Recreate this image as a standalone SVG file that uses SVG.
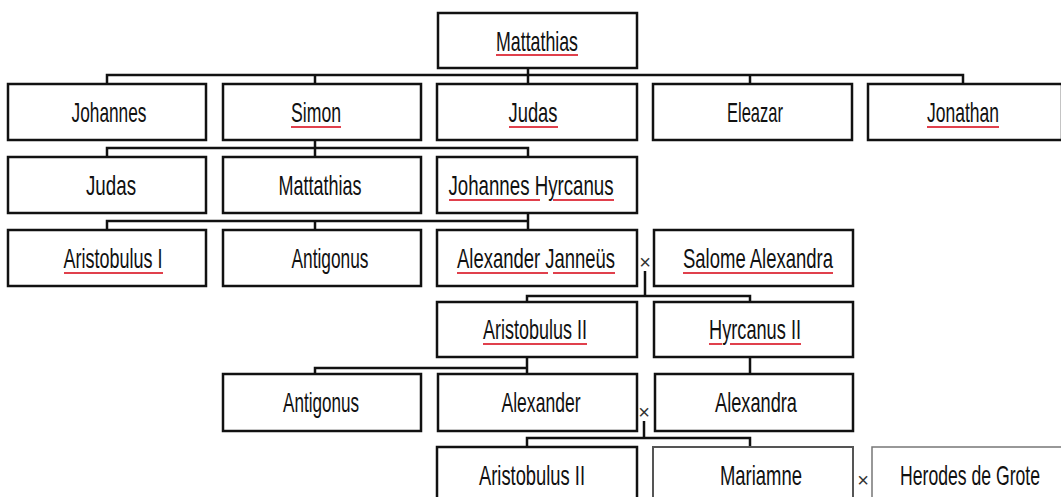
<svg xmlns="http://www.w3.org/2000/svg" width="1061" height="497" viewBox="0 0 1061 497">
<style>
.box{fill:#fff;stroke:#111;stroke-width:2.5}
.light{fill:#fff;stroke:#777;stroke-width:1.5}
.t{font-family:"Liberation Sans Narrow","Liberation Sans",Arial,sans-serif;font-size:28px;fill:#111;text-anchor:middle}
.x{font-family:"Liberation Sans",Arial,sans-serif;font-size:20px;fill:#333;text-anchor:middle}
.c{fill:none;stroke:#111;stroke-width:2.5}
.u{stroke:#e0404c;stroke-width:1.8;fill:none}
</style>
<rect width="1061" height="497" fill="#fff"/>
<g id="connectors">
<path class="c" d="M528 68V75M107 84V75H963V84M315 75V84M528 75V84M750 75V84"/>
<path class="c" d="M315 140V148M107 157V148H528V157M315 148V157"/>
<path class="c" d="M528 213V230M107 230V221H528M315 221V230"/>
<path class="c" d="M645 271V296M527 302V296H750V302"/>
<path class="c" d="M527 357V374M315 374V368H527M750 357V374"/>
<path class="c" d="M644 421V438M527 447V438H750V447"/>
</g>
<g id="n-mattathias"><rect class="box" x="438" y="13" width="199" height="55"/><text class="t" x="537" y="51" textLength="82" lengthAdjust="spacingAndGlyphs">Mattathias</text><path class="u" d="M496 55H578"/></g>
<g id="n-johannes"><rect class="box" x="8" y="84" width="198" height="56"/><text class="t" x="109" y="122" textLength="75" lengthAdjust="spacingAndGlyphs">Johannes</text></g>
<g id="n-simon"><rect class="box" x="223" y="84" width="198" height="56"/><text class="t" x="316" y="122" textLength="50" lengthAdjust="spacingAndGlyphs">Simon</text><path class="u" d="M291 127H341"/></g>
<g id="n-judas1"><rect class="box" x="437" y="84" width="200" height="56"/><text class="t" x="533" y="122" textLength="49" lengthAdjust="spacingAndGlyphs">Judas</text><path class="u" d="M509 127H558"/></g>
<g id="n-eleazar"><rect class="box" x="653" y="84" width="199" height="56"/><text class="t" x="755" y="122" textLength="56" lengthAdjust="spacingAndGlyphs">Eleazar</text></g>
<g id="n-jonathan"><rect class="box" x="868" y="84" width="194" height="56"/><text class="t" x="963" y="122" textLength="72" lengthAdjust="spacingAndGlyphs">Jonathan</text><path class="u" d="M927 127H999"/></g>
<g id="n-judas2"><rect class="box" x="8" y="157" width="198" height="56"/><text class="t" x="111" y="195" textLength="50" lengthAdjust="spacingAndGlyphs">Judas</text></g>
<g id="n-mattathias2"><rect class="box" x="223" y="157" width="198" height="56"/><text class="t" x="320" y="195" textLength="83" lengthAdjust="spacingAndGlyphs">Mattathias</text></g>
<g id="n-hyrcanus"><rect class="box" x="437" y="157" width="200" height="56"/><text class="t" x="531" y="195" textLength="165" lengthAdjust="spacingAndGlyphs">Johannes Hyrcanus</text><path class="u" d="M449 200H540M553 200H614"/></g>
<g id="n-aristobulus1"><rect class="box" x="8" y="230" width="198" height="56"/><text class="t" x="113" y="268" textLength="99" lengthAdjust="spacingAndGlyphs">Aristobulus I</text><path class="u" d="M64 273H163"/></g>
<g id="n-antigonus1"><rect class="box" x="223" y="230" width="198" height="56"/><text class="t" x="330" y="268" textLength="77" lengthAdjust="spacingAndGlyphs">Antigonus</text></g>
<g id="n-janneus"><rect class="box" x="437" y="230" width="200" height="56"/><text class="t" x="536" y="268" textLength="158" lengthAdjust="spacingAndGlyphs">Alexander Janneüs</text><path class="u" d="M457 273H548M553 273H615"/></g>
<text class="x" x="645" y="269">×</text>
<g id="n-salome"><rect class="box" x="654" y="230" width="199" height="56"/><text class="t" x="758" y="268" textLength="150" lengthAdjust="spacingAndGlyphs">Salome Alexandra</text><path class="u" d="M683 273H833"/></g>
<g id="n-aristobulus2"><rect class="box" x="437" y="302" width="200" height="55"/><text class="t" x="535" y="339" textLength="104" lengthAdjust="spacingAndGlyphs">Aristobulus II</text><path class="u" d="M483 344H587"/></g>
<g id="n-hyrcanus2"><rect class="box" x="654" y="302" width="199" height="55"/><text class="t" x="755" y="339" textLength="92" lengthAdjust="spacingAndGlyphs">Hyrcanus II</text><path class="u" d="M709 344H722M730 344H801"/></g>
<g id="n-antigonus2"><rect class="box" x="223" y="374" width="198" height="57"/><text class="t" x="321" y="412" textLength="76" lengthAdjust="spacingAndGlyphs">Antigonus</text></g>
<g id="n-alexander"><rect class="box" x="438" y="374" width="199" height="57"/><text class="t" x="541" y="412" textLength="79" lengthAdjust="spacingAndGlyphs">Alexander</text></g>
<text class="x" x="644" y="419">×</text>
<g id="n-alexandra"><rect class="box" x="655" y="374" width="198" height="57"/><text class="t" x="756" y="412" textLength="82" lengthAdjust="spacingAndGlyphs">Alexandra</text></g>
<g id="n-aristobulus3"><rect class="box" x="437" y="447" width="200" height="60"/><text class="t" x="532" y="485" textLength="106" lengthAdjust="spacingAndGlyphs">Aristobulus II</text></g>
<g id="n-mariamne"><rect class="box" x="653" y="447" width="200" height="60" style="stroke:#555;stroke-width:2"/><text class="t" x="761" y="485" textLength="82" lengthAdjust="spacingAndGlyphs">Mariamne</text></g>
<text class="x" x="863" y="487">×</text>
<g id="n-herodes"><rect class="light" x="872" y="447" width="196" height="60"/><text class="t" x="970" y="485" textLength="140" lengthAdjust="spacingAndGlyphs">Herodes de Grote</text></g>
</svg>
